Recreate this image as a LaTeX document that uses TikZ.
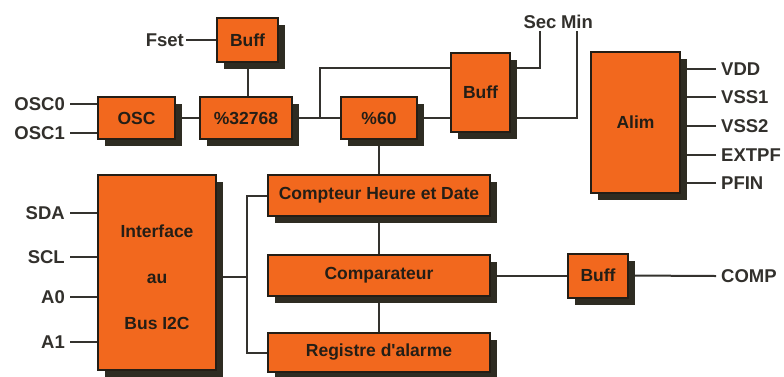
\documentclass[tikz,border=0pt]{standalone}
\usepackage{fontspec}
\setmainfont{Liberation Sans}
\usetikzlibrary{shadows,backgrounds}
\definecolor{boxorange}{RGB}{242,104,30}
\definecolor{boxborder}{RGB}{36,30,22}
\definecolor{shadowc}{RGB}{46,44,34}
\definecolor{linec}{RGB}{52,50,46}
\definecolor{textc}{RGB}{50,48,44}
\tikzset{
  blk/.style={draw=boxborder, line width=2pt, fill=boxorange, inner sep=0pt,
    text=boxborder, font=\fontsize{17.5}{20}\selectfont\bfseries,
    drop shadow={shadow xshift=7pt, shadow yshift=-7pt, opacity=1, fill=shadowc}},
  lbl/.style={text=textc, font=\fontsize{18.5}{21}\selectfont\bfseries, inner sep=2pt},
  wire/.style={draw=linec, line width=2pt},
}
\begin{document}
\begin{tikzpicture}[x=1pt,y=-1pt]
\useasboundingbox (0,0) rectangle (784,376);
% blocks
\node[blk, minimum width=61pt, minimum height=44pt] (buffA) at (247.5,40) {Buff};
\node[blk, minimum width=77pt, minimum height=42pt] (osc) at (136.5,118) {OSC};
\node[blk, minimum width=92pt, minimum height=42pt] (div32) at (246,118) {\%32768};
\node[blk, minimum width=76pt, minimum height=42pt] (div60) at (379,118) {\%60};
\node[blk, minimum width=59pt, minimum height=79pt] (buffB) at (480.5,92.5) {Buff};
\node[blk, minimum width=89pt, minimum height=141pt] (alim) at (635.5,122.5) {Alim};
\node[blk, minimum width=118pt, minimum height=195pt] (iface) at (157,272.5) {\raisebox{-11pt}[0pt][0pt]{\begin{tabular}{@{}c@{}}Interface\\[26pt]au\\[26pt]Bus I2C\end{tabular}}};
\node[blk, minimum width=222pt, minimum height=41pt] (cpt) at (379,195.5) {Compteur Heure et Date};
\node[blk, minimum width=222pt, minimum height=41pt] (cmp) at (379,275.5) {Comparateur};
\node[blk, minimum width=222pt, minimum height=39pt] (reg) at (379,352.5) {Registre d\textquotesingle alarme};
\node[blk, minimum width=60pt, minimum height=44pt] (buffC) at (598,275.5) {Buff};
% labels
\node[lbl, anchor=east] (fset) at (186,40) {Fset};
\node[lbl, anchor=east, inner xsep=5pt] (osc0) at (70,104) {OSC0};
\node[lbl, anchor=east, inner xsep=5pt] (osc1) at (70,133) {OSC1};
\node[lbl, anchor=east, inner xsep=5pt] (sda) at (70,213) {SDA};
\node[lbl, anchor=east, inner xsep=5pt] (scl) at (70,257) {SCL};
\node[lbl, anchor=east, inner xsep=5pt] (a0) at (70,297) {A0};
\node[lbl, anchor=east, inner xsep=5pt] (a1) at (70,342) {A1};
\node[lbl] (sec) at (540,22) {Sec};
\node[lbl] (min) at (577,22) {Min};
\node[lbl, anchor=west, inner xsep=5pt] (vdd) at (716,69) {VDD};
\node[lbl, anchor=west, inner xsep=5pt] (vss1) at (716,97) {VSS1};
\node[lbl, anchor=west, inner xsep=5pt] (vss2) at (716,126) {VSS2};
\node[lbl, anchor=west, inner xsep=5pt] (extpf) at (716,155) {EXTPF};
\node[lbl, anchor=west, inner xsep=5pt] (pfin) at (716,183) {PFIN};
\node[lbl, anchor=west, inner xsep=5pt] (comp) at (716,276) {COMP};
\coordinate (br) at (320,118);
\coordinate (brtop) at (320,68);
\coordinate (bus) at (247,277);
% connectors
\begin{pgfonlayer}{background}
\draw[wire] (fset.east) -- (buffA.west);
\draw[wire] (buffA.south) -- (buffA.south |- div32.north);
\draw[wire] (osc0.east) -- (osc0.east -| osc.west);
\draw[wire] (osc1.east) -- (osc1.east -| osc.west);
\draw[wire] (osc.east) -- (div32.west);
\draw[wire] (div32.east) -- (div60.west);
\draw[wire] (br) -- (brtop) -- (brtop -| buffB.west);
\draw[wire] (div60.east) -- (div60.east -| buffB.west);
\draw[wire] (buffB.east |- brtop) -| (sec.south);
\draw[wire] (buffB.east |- div60.east) -| (min.south);
\draw[wire] (div60.south) -- (div60.south |- cpt.north);
\draw[wire] (cpt.south) -- (cmp.north);
\draw[wire] (cmp.south) -- (reg.north);
\draw[wire] (cmp.east) -- (buffC.west);
\draw[wire] (buffC.east) -- (comp.west);
\foreach \s in {sda,scl,a0,a1} \draw[wire] (\s.east) -- (\s.east -| iface.west);
\foreach \s in {vdd,vss1,vss2,extpf,pfin} \draw[wire] (\s.west) -- (\s.west -| alim.east);
\draw[wire] (bus -| iface.east) -- (bus);
\draw[wire] (cpt.west) -| (bus) |- (reg.west);
\end{pgfonlayer}
\end{tikzpicture}
\end{document}
